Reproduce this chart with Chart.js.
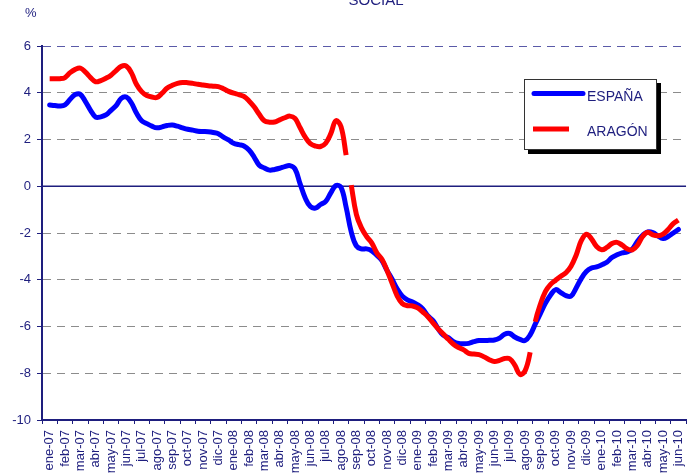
<!DOCTYPE html>
<html>
<head>
<meta charset="utf-8">
<script src="https://cdn.jsdelivr.net/npm/chart.js@4.4.1/dist/chart.umd.min.js"></script>
<style>
html, body { margin: 0; padding: 0; background: #fff; overflow: hidden; }
</style>
</head>
<body>
<canvas id="myChart" width="700" height="476"></canvas>
<script>
// month labels of the x axis
let months = [
    'ene-07', 'feb-07', 'mar-07', 'abr-07', 'may-07', 'jun-07', 'jul-07', 'ago-07', 'sep-07', 'oct-07', 'nov-07', 'dic-07',
    'ene-08', 'feb-08', 'mar-08', 'abr-08', 'may-08', 'jun-08', 'jul-08', 'ago-08', 'sep-08', 'oct-08', 'nov-08', 'dic-08',
    'ene-09', 'feb-09', 'mar-09', 'abr-09', 'may-09', 'jun-09', 'jul-09', 'ago-09', 'sep-09', 'oct-09', 'nov-09', 'dic-09',
    'ene-10', 'feb-10', 'mar-10', 'abr-10', 'may-10', 'jun-10'
];

// three readings per month (beginning, middle, end of each month)
let espana = [
    null, 3.48, 3.45, 3.43, 3.48, 3.72, 3.92, 3.93, 3.62, 3.25,
    2.96, 2.97, 3.05, 3.25, 3.45, 3.76, 3.82, 3.56, 3.12, 2.80,
    2.68, 2.57, 2.50, 2.54, 2.60, 2.62, 2.57, 2.50, 2.44, 2.40,
    2.35, 2.34, 2.33, 2.30, 2.25, 2.10, 1.98, 1.84, 1.78, 1.72,
    1.55, 1.25, 0.90, 0.78, 0.69, 0.72, 0.77, 0.84, 0.88, 0.74,
    0.10, -0.50, -0.87, -0.93, -0.78, -0.65, -0.28, 0.03, -0.05, -0.90,
    -1.95, -2.55, -2.68, -2.68, -2.76, -2.95, -3.18, -3.60, -3.98, -4.40,
    -4.70, -4.86, -4.95, -5.07, -5.25, -5.55, -5.75, -6.10, -6.37, -6.48,
    -6.65, -6.73, -6.74, -6.72, -6.65, -6.60, -6.60, -6.59, -6.58, -6.50,
    -6.33, -6.30, -6.45, -6.55, -6.60, -6.36, -5.90, -5.45, -5.00, -4.65,
    -4.42, -4.55, -4.68, -4.70, -4.35, -3.95, -3.65, -3.50, -3.45, -3.36,
    -3.25, -3.05, -2.93, -2.85, -2.81, -2.68, -2.35, -2.10, -1.95, -1.98,
    -2.12, -2.24, -2.15, -2.00, -1.85, null
];

let aragon = [
    null, 4.60, 4.60, 4.60, 4.65, 4.86, 5.00, 5.05, 4.88, 4.65,
    4.47, 4.52, 4.62, 4.75, 4.95, 5.13, 5.14, 4.85, 4.35, 4.05,
    3.88, 3.82, 3.80, 3.98, 4.20, 4.32, 4.40, 4.44, 4.43, 4.40,
    4.36, 4.33, 4.30, 4.28, 4.26, 4.17, 4.06, 3.98, 3.92, 3.84,
    3.65, 3.40, 3.08, 2.80, 2.74, 2.75, 2.84, 2.93, 3.00, 2.90,
    2.50, 2.10, 1.82, 1.72, 1.70, 1.84, 2.25, 2.80, 2.55, 1.33,
    0.05, -1.20, -1.78, -2.15, -2.42, -2.85, -3.12, -3.60, -4.15, -4.70,
    -5.02, -5.11, -5.12, -5.20, -5.38, -5.58, -5.85, -6.10, -6.32, -6.55,
    -6.76, -6.90, -7.00, -7.15, -7.18, -7.20, -7.30, -7.42, -7.50, -7.45,
    -7.37, -7.38, -7.65, -8.05, -7.90, -7.10, -5.80, -5.05, -4.50, -4.20,
    -4.02, -3.85, -3.70, -3.42, -2.95, -2.33, -2.05, -2.25, -2.58, -2.72,
    -2.62, -2.45, -2.40, -2.52, -2.68, -2.72, -2.52, -2.15, -1.97, -2.08,
    -2.12, -2.05, -1.85, -1.60, -1.45, null
];

// the Aragón series is broken after these readings (ago-08 and ago-09)
let aragonBreaks = [59, 95];

let yMin = -10;
let yMax = 6;
let yStep = 2;

const navy = '#1e1e7e';
const family = "'Liberation Sans', Arial, sans-serif";
const perMonth = 3;

function toPoints(values) {
    return values.map((v, i) => ({x: i + 0.5, y: v}));
}

// solid zero line, title, % label and the boxed legend
const extras = {
    id: 'extras',
    beforeDatasetsDraw(chart) {
        const ctx = chart.ctx;
        const y0 = chart.scales.y.getPixelForValue(0);
        ctx.save();
        ctx.strokeStyle = navy;
        ctx.lineWidth = 1.5;
        ctx.beginPath();
        ctx.moveTo(chart.chartArea.left, y0);
        ctx.lineTo(chart.chartArea.right, y0);
        ctx.stroke();
        ctx.restore();
    },
    afterDraw(chart) {
        const ctx = chart.ctx;
        ctx.save();
        ctx.fillStyle = navy;
        ctx.font = '15px ' + family;
        ctx.textAlign = 'center';
        ctx.textBaseline = 'alphabetic';
        ctx.fillText('SOCIAL', 376, 5);
        ctx.font = '13px ' + family;
        ctx.textAlign = 'left';
        ctx.fillText('%', 25, 17);

        // legend box with shadow
        ctx.fillStyle = '#000';
        ctx.fillRect(528, 83, 133, 71);
        ctx.fillStyle = '#fff';
        ctx.fillRect(524.5, 79.5, 132, 70);
        ctx.strokeStyle = '#333';
        ctx.lineWidth = 1;
        ctx.strokeRect(524.5, 79.5, 132, 70);

        ctx.lineWidth = 5;
        ctx.lineCap = 'round';
        ctx.strokeStyle = '#0000ff';
        ctx.beginPath();
        ctx.moveTo(534, 93.5);
        ctx.lineTo(583, 93.5);
        ctx.stroke();
        ctx.lineCap = 'butt';
        ctx.strokeStyle = '#ff0000';
        ctx.beginPath();
        ctx.moveTo(533, 129);
        ctx.lineTo(569, 129);
        ctx.stroke();

        ctx.fillStyle = navy;
        ctx.font = '14px ' + family;
        ctx.fillText('ESPAÑA', 587, 101);
        ctx.fillText('ARAGÓN', 587, 136);
        ctx.restore();
    }
};

let context = document.getElementById('myChart');
let myChart = new Chart(context, {
    type: 'line',
    data: {
        datasets: [{
            label: 'ESPAÑA',
            data: toPoints(espana),
            xAxisID: 'xd',
            borderColor: '#0000ff',
            borderWidth: 5,
            pointRadius: 0,
            tension: 0.4,
            borderCapStyle: 'round',
            borderJoinStyle: 'round',
            order: 2
        }, {
            label: 'ARAGÓN',
            data: toPoints(aragon),
            xAxisID: 'xd',
            borderColor: '#ff0000',
            borderWidth: 5,
            pointRadius: 0,
            tension: 0.4,
            borderJoinStyle: 'round',
            segment: {
                borderColor: ctx => aragonBreaks.includes(ctx.p0DataIndex) ? 'rgba(0,0,0,0)' : undefined
            },
            order: 1
        }]
    },
    options: {
        responsive: false,
        animation: false,
        devicePixelRatio: 1,
        layout: {padding: {top: 46, right: 2, left: 0, bottom: 0}},
        plugins: {
            legend: {display: false},
            tooltip: {enabled: false}
        },
        scales: {
            x: {
                type: 'category',
                labels: months,
                offset: true,
                grid: {offset: true, drawOnChartArea: false, tickLength: 4, tickColor: navy, tickWidth: 1},
                border: {color: navy, width: 2},
                ticks: {
                    color: navy,
                    font: {size: 13, family: family},
                    maxRotation: 90,
                    minRotation: 90,
                    autoSkip: false,
                    padding: 6
                },
                afterFit: s => { s.height = 56; }
            },
            xd: {
                type: 'linear',
                display: false,
                min: 0,
                max: months.length * perMonth
            },
            y: {
                min: yMin,
                max: yMax,
                ticks: {
                    stepSize: yStep,
                    color: navy,
                    font: {size: 13, family: family},
                    padding: 6
                },
                grid: {
                    color: ctx => {
                        if (ctx.tick.value === yMax) return '#5a5aa8';
                        if (ctx.tick.value === 0 || ctx.tick.value === yMin) return 'rgba(0,0,0,0)';
                        return '#8c8c8c';
                    },
                    lineWidth: 1,
                    tickColor: navy,
                    tickLength: 5,
                    tickBorderDash: []
                },
                border: {color: navy, width: 2, dash: [8, 6]},
                afterFit: s => { s.width = 42; }
            }
        }
    },
    plugins: [extras]
});
</script>
</body>
</html>
